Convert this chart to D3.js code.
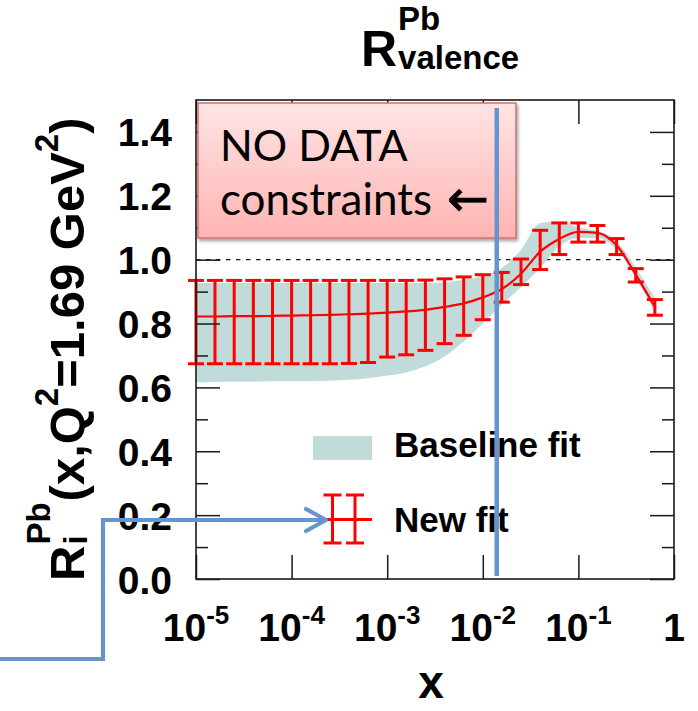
<!DOCTYPE html>
<html><head><meta charset="utf-8">
<script src="https://cdn.jsdelivr.net/npm/d3@7"></script>
<style>body{margin:0;background:#fff}</style>
</head><body>
<svg id="c" width="698" height="711"></svg>
<script>
// ---- data ----
const xValues = [1.00e-5, 1.58e-5, 2.51e-5, 3.98e-5, 6.31e-5, 1.00e-4, 1.58e-4, 2.51e-4, 3.98e-4, 6.31e-4,
                 1.00e-3, 1.58e-3, 2.51e-3, 3.98e-3, 6.31e-3, 1.00e-2, 1.58e-2, 2.51e-2, 3.98e-2, 6.31e-2,
                 0.100, 0.158, 0.251, 0.398, 0.631];
const newFitCentral = [0.822, 0.822, 0.823, 0.823, 0.824, 0.825, 0.826, 0.827, 0.829, 0.831,
                       0.834, 0.838, 0.843, 0.852, 0.863, 0.882, 0.908, 0.956, 1.025, 1.065,
                       1.087, 1.084, 1.045, 0.953, 0.852];
const newFitHigh = [0.935, 0.935, 0.935, 0.935, 0.935, 0.935, 0.935, 0.935, 0.935, 0.935,
                    0.935, 0.935, 0.936, 0.940, 0.946, 0.953, 0.960, 1.002, 1.092, 1.115,
                    1.115, 1.107, 1.066, 0.972, 0.875];
const newFitLow = [0.674, 0.674, 0.674, 0.674, 0.674, 0.674, 0.674, 0.674, 0.675, 0.678,
                   0.695, 0.702, 0.716, 0.737, 0.763, 0.812, 0.867, 0.922, 0.969, 1.016,
                   1.055, 1.055, 1.016, 0.930, 0.826];
const baselineHigh = [0.927, 0.927, 0.927, 0.927, 0.927, 0.927, 0.927, 0.927, 0.927, 0.927,
                      0.927, 0.927, 0.927, 0.929, 0.937, 0.950, 0.974, 1.031, 1.115, 1.120,
                      1.100, 1.090, 1.058, 0.975, 0.880];
const baselineLow = [0.616, 0.617, 0.618, 0.618, 0.619, 0.619, 0.620, 0.621, 0.624, 0.629,
                     0.637, 0.647, 0.666, 0.697, 0.744, 0.801, 0.859, 0.914, 0.974, 1.042,
                     1.068, 1.068, 1.031, 0.943, 0.833];
const yTicks = [0.0, 0.2, 0.4, 0.6, 0.8, 1.0, 1.2, 1.4];
const yMinorTicks = [0.1, 0.3, 0.5, 0.7, 0.9, 1.1, 1.3];
const xTicks = [1e-5, 1e-4, 1e-3, 1e-2, 1e-1, 1];
const xTickBase = ["10", "10", "10", "10", "10", "1"];
const xTickExp = ["-5", "-4", "-3", "-2", "-1", ""];
const legendLabels = ["Baseline fit", "New fit"];
const boxLine1 = "NO DATA";
const boxLine2 = "constraints";
const boxArrow = "\u2190";
const referenceLine = 1.0;
const dividerX = 1.4e-2;

// ---- layout ----
const L = 196, R = 674, T = 100, B = 579;
const svg = d3.select("#c");
const x = d3.scaleLog().domain([1e-5, 1]).range([L, R]);
const y = d3.scaleLinear().domain([0, 1.5]).range([B, T]);
const ROOTFONT = "'Liberation Sans', Arial, Helvetica, sans-serif";
const BAND = "#c0dbd9", RED = "#ff0000", BLUE = "#6594cf", INK = "#1a1a1a";

const defs = svg.append("defs");
const gr = defs.append("linearGradient").attr("id", "pink").attr("x1", 0).attr("y1", 0).attr("x2", 0).attr("y2", 1);
gr.append("stop").attr("offset", "0%").attr("stop-color", "#ffe4e4");
gr.append("stop").attr("offset", "100%").attr("stop-color", "#ffb4b3");
const sh = defs.append("filter").attr("id", "shadow").attr("x", "-10%").attr("y", "-10%").attr("width", "130%").attr("height", "140%");
sh.append("feDropShadow").attr("dx", 1.5).attr("dy", 2.5).attr("stdDeviation", 1.8).attr("flood-color", "#000").attr("flood-opacity", 0.35);

const data = xValues.map((v, i) => ({x: v, c: newFitCentral[i], lo: newFitLow[i], hi: newFitHigh[i], bl: baselineLow[i], bh: baselineHigh[i]}));

// dashed reference line
svg.append("line").attr("x1", L).attr("x2", R).attr("y1", y(referenceLine)).attr("y2", y(referenceLine))
  .attr("stroke", INK).attr("stroke-width", 1.4).attr("stroke-dasharray", "4.5,5.5");

// baseline band
svg.append("path").datum(data)
  .attr("d", d3.area().x(d => x(d.x)).y0(d => y(d.bl)).y1(d => y(d.bh)).curve(d3.curveMonotoneX))
  .attr("fill", BAND);

// new fit curve
svg.append("path").datum(data)
  .attr("d", d3.line().x(d => x(d.x)).y(d => y(d.c)).curve(d3.curveMonotoneX))
  .attr("fill", "none").attr("stroke", RED).attr("stroke-width", 2.2);

// error bars
const eb = svg.append("g").attr("stroke", RED).attr("stroke-width", 3).attr("fill", "none");
data.forEach(d => {
  const cx = x(d.x);
  eb.append("line").attr("x1", cx).attr("x2", cx).attr("y1", y(d.lo)).attr("y2", y(d.hi));
  eb.append("line").attr("x1", cx - 8).attr("x2", cx + 8).attr("y1", y(d.lo)).attr("y2", y(d.lo));
  eb.append("line").attr("x1", cx - 8).attr("x2", cx + 8).attr("y1", y(d.hi)).attr("y2", y(d.hi));
});

// axes (ticks inward on all four sides)
function styleAxis(g) { g.select(".domain").remove(); g.selectAll("line").attr("stroke", INK).attr("stroke-width", 1.5); }
svg.append("g").attr("transform", `translate(${L},0)`)
  .call(d3.axisLeft(y).tickValues(yTicks).tickSizeInner(-24).tickSizeOuter(0).tickPadding(24).tickFormat(d3.format(".1f")))
  .call(styleAxis)
  .call(g => g.selectAll("text").attr("font-family", ROOTFONT).attr("font-weight", "bold").attr("font-size", 39).attr("fill", "#000").attr("dy", "0.36em"));
svg.append("g").attr("transform", `translate(${L},0)`)
  .call(d3.axisLeft(y).tickValues(yMinorTicks).tickSizeInner(-12).tickSizeOuter(0).tickFormat(""))
  .call(styleAxis);
svg.append("g").attr("transform", `translate(${R},0)`)
  .call(d3.axisRight(y).tickValues(yTicks).tickSizeInner(-24).tickSizeOuter(0).tickFormat(""))
  .call(styleAxis);
svg.append("g").attr("transform", `translate(${R},0)`)
  .call(d3.axisRight(y).tickValues(yMinorTicks).tickSizeInner(-12).tickSizeOuter(0).tickFormat(""))
  .call(styleAxis);
svg.append("g").attr("transform", `translate(0,${B})`)
  .call(d3.axisBottom(x).tickValues(xTicks).tickSizeInner(-24).tickSizeOuter(0).tickFormat(""))
  .call(styleAxis);
svg.append("g").attr("transform", `translate(0,${T})`)
  .call(d3.axisTop(x).tickValues(xTicks).tickSizeInner(-24).tickSizeOuter(0).tickFormat(""))
  .call(styleAxis);

// frame
svg.append("rect").attr("x", L).attr("y", T).attr("width", R - L).attr("height", B - T)
  .attr("fill", "none").attr("stroke", INK).attr("stroke-width", 1.6);

// x tick labels with exponents
xTicks.forEach((v, i) => {
  const t = svg.append("text").attr("x", x(v)).attr("y", 641).attr("text-anchor", "middle")
    .attr("font-family", ROOTFONT).attr("font-weight", "bold").attr("font-size", 39).attr("fill", "#000");
  t.append("tspan").text(xTickBase[i]);
  if (xTickExp[i]) t.append("tspan").attr("dy", -17).attr("font-size", 26).text(xTickExp[i]);
});

// x axis title
svg.append("text").attr("x", 431).attr("y", 698).attr("text-anchor", "middle")
  .attr("font-family", ROOTFONT).attr("font-weight", "bold").attr("font-size", 46).text("x");

// helper to lay out pieces of rich text
function rich(g, pieces) {
  let cx = 0;
  pieces.forEach(p => {
    if (p.stack) {
      let w = 0;
      p.stack.forEach(s => {
        const t = g.append("text").attr("x", cx).attr("y", s.dy).attr("font-family", ROOTFONT)
          .attr("font-weight", "bold").attr("font-size", s.size).text(s.text);
        w = Math.max(w, t.node().getComputedTextLength());
      });
      cx += w + (p.gap || 0);
    } else {
      const t = g.append("text").attr("x", cx).attr("y", p.dy || 0).attr("font-family", ROOTFONT)
        .attr("font-weight", "bold").attr("font-size", p.size).text(p.text);
      cx += t.node().getComputedTextLength() + (p.gap || 0);
    }
  });
  return cx;
}

// title
const tg = svg.append("g").attr("transform", "translate(361,66)");
rich(tg, [{text: "R", size: 50, gap: 1}, {stack: [{text: "Pb", size: 33, dy: -36}, {text: "valence", size: 33, dy: 3}]}]);

// y axis title (rotated)
const yg = svg.append("g");
rich(yg, [
  {text: "R", size: 49, gap: 1},
  {stack: [{text: "Pb", size: 33, dy: -34}, {text: "i", size: 33, dy: 3}], gap: 1},
  {text: "(x,Q", size: 49},
  {text: "2", size: 33, dy: -26},
  {text: "=1.69 GeV", size: 49},
  {text: "2", size: 33, dy: -26},
  {text: ")", size: 49}
]);
yg.attr("transform", `translate(84,581) rotate(-90)`);

// legend
svg.append("rect").attr("x", 313).attr("y", 436).attr("width", 59).attr("height", 24).attr("fill", BAND);
svg.append("text").attr("x", 394).attr("y", 457).attr("font-family", ROOTFONT).attr("font-weight", "bold")
  .attr("font-size", 35).text(legendLabels[0]);
svg.append("text").attr("x", 394).attr("y", 532).attr("font-family", ROOTFONT).attr("font-weight", "bold")
  .attr("font-size", 35).text(legendLabels[1]);
const lg = svg.append("g").attr("stroke", RED).attr("stroke-width", 3);
lg.append("line").attr("x1", 323).attr("x2", 372).attr("y1", 519.5).attr("y2", 519.5);
[332.5, 355].forEach(cx => {
  lg.append("line").attr("x1", cx).attr("x2", cx).attr("y1", 495).attr("y2", 543);
  lg.append("line").attr("x1", cx - 9).attr("x2", cx + 9).attr("y1", 495).attr("y2", 495);
  lg.append("line").attr("x1", cx - 9).attr("x2", cx + 9).attr("y1", 543).attr("y2", 543);
});

// annotation box
svg.append("rect").attr("x", 198).attr("y", 103).attr("width", 318).attr("height", 135)
  .attr("fill", "url(#pink)").attr("stroke", "#d0706e").attr("stroke-width", 1.5).attr("filter", "url(#shadow)");
svg.append("text").attr("x", 220).attr("y", 161).attr("font-family", "Lato, 'Open Sans', sans-serif")
  .attr("font-size", 43).attr("fill", "#000").text(boxLine1);
const t2 = svg.append("text").attr("x", 220).attr("y", 215).attr("font-family", "Lato, 'Open Sans', sans-serif")
  .attr("font-size", 44).attr("fill", "#000");
t2.append("tspan").text(boxLine2);
t2.append("tspan").attr("x", 447).attr("dy", 1).attr("font-family", "'DejaVu Sans', sans-serif")
  .attr("font-size", 50).attr("stroke", "#000").attr("stroke-width", 0.8).text(boxArrow);

// blue divider line
svg.append("line").attr("x1", x(dividerX)).attr("x2", x(dividerX)).attr("y1", 108).attr("y2", 576)
  .attr("stroke", BLUE).attr("stroke-width", 4.5);

// blue connector arrow
svg.append("path").attr("d", "M0,659 H103 V520 H324").attr("fill", "none").attr("stroke", BLUE)
  .attr("stroke-width", 4.2).attr("stroke-linejoin", "miter");
svg.append("path").attr("d", "M306,509 L326,520 L306,531").attr("fill", "none").attr("stroke", BLUE)
  .attr("stroke-width", 4.2).attr("stroke-linecap", "round").attr("stroke-linejoin", "round");
</script>
</body></html>
